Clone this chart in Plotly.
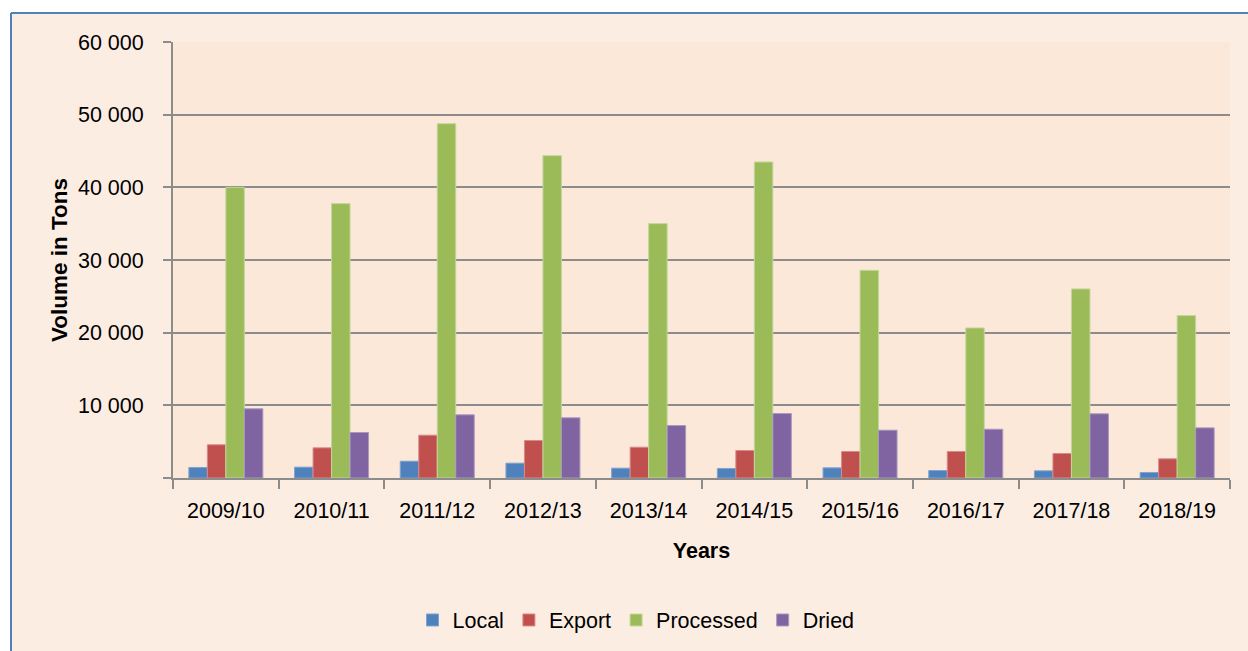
import plotly.graph_objects as go

years = ["2009/10", "2010/11", "2011/12", "2012/13", "2013/14",
         "2014/15", "2015/16", "2016/17", "2017/18", "2018/19"]
local = [1450, 1490, 2310, 2040, 1350, 1310, 1400, 1030, 990, 760]
export = [4570, 4150, 5890, 5160, 4240, 3780, 3650, 3650, 3370, 2640]
processed = [40000, 37760, 48760, 44360, 35010, 43490, 28580, 20650, 26020, 22350]
dried = [9520, 6260, 8690, 8280, 7220, 8870, 6580, 6710, 8830, 6900]

y_tickvals = [0, 10000, 20000, 30000, 40000, 50000, 60000]
y_ticktext = ["", "10 000", "20 000", "30 000", "40 000", "50 000", "60 000"]

series = [
    ("Local", local, "#4F81BD", "#7FA3D0"),
    ("Export", export, "#C0504D", "#D98A88"),
    ("Processed", processed, "#9BBB59", "#C3D79B"),
    ("Dried", dried, "#8064A2", "#A899C0"),
]

FONT = "Liberation Sans, Arial, sans-serif"
FS = 21.5

fig = go.Figure()
for name, vals, col, lcol in series:
    fig.add_trace(go.Bar(name=name, x=years, y=vals,
                         marker=dict(color=col, line=dict(color=lcol, width=1))))

W, H = 1248, 651
L, R, T, B = 173, 18, 42, 173
pw, ph = W - L - R, H - T - B


def px_x(p):
    return (p - L) / pw


def px_y(p):
    return (H - B - p) / ph


shapes = [
    dict(type="rect", xref="paper", yref="paper", x0=px_x(-5), x1=px_x(10),
         y0=px_y(660), y1=px_y(-5), fillcolor="white", line=dict(width=0), layer="above"),
    dict(type="rect", xref="paper", yref="paper", x0=px_x(-5), x1=px_x(1260),
         y0=px_y(12), y1=px_y(-5), fillcolor="white", line=dict(width=0), layer="above"),
    dict(type="line", xref="paper", yref="paper", x0=px_x(11), x1=px_x(1260),
         y0=px_y(13), y1=px_y(13), line=dict(color="#4F81BD", width=2), layer="above"),
    dict(type="line", xref="paper", yref="paper", x0=px_x(11), x1=px_x(11),
         y0=px_y(13), y1=px_y(660), line=dict(color="#4F81BD", width=2), layer="above"),
]

fig.update_layout(
    width=W, height=H,
    margin=dict(l=L, r=R, t=T, b=B, autoexpand=False),
    paper_bgcolor="#FCEDE3",
    plot_bgcolor="#FBE8D8",
    barmode="group",
    bargap=0.3,
    bargroupgap=0,
    font=dict(family=FONT, size=FS, color="black"),
    shapes=shapes,
    showlegend=True,
    legend=dict(orientation="h", x=px_x(636), xanchor="center",
                y=px_y(620), yanchor="middle", bgcolor="rgba(0,0,0,0)",
                font=dict(size=FS, color="black"), itemwidth=30,
                traceorder="normal"),
)

fig.update_xaxes(
    type="category",
    showline=True, linecolor="#8C8C8C", linewidth=2,
    ticks="outside", tickson="boundaries", ticklen=9, tickwidth=2, tickcolor="#8C8C8C",
    tickfont=dict(size=FS, color="black"),
    ticklabelstandoff=12,
    showgrid=False,
    title=dict(text="<b>Years</b>", font=dict(size=FS, color="black"), standoff=21),
    automargin=False,
)
fig.update_yaxes(
    range=[0, 60000],
    tickvals=y_tickvals, ticktext=y_ticktext,
    showline=True, linecolor="#8C8C8C", linewidth=2,
    ticks="outside", ticklen=8, tickwidth=2, tickcolor="#8C8C8C",
    showgrid=True, gridcolor="#8C8C8C", gridwidth=2,
    zeroline=False,
    tickfont=dict(size=FS, color="black"),
    ticklabelstandoff=15,
    title=dict(text="<b>Volume in Tons</b>", font=dict(size=22.5, color="black"), standoff=4),
    automargin=False,
)

fig.write_html("out.html", config={"displayModeBar": False},
               post_script="document.body.style.margin='0';document.body.style.overflow='hidden';")
